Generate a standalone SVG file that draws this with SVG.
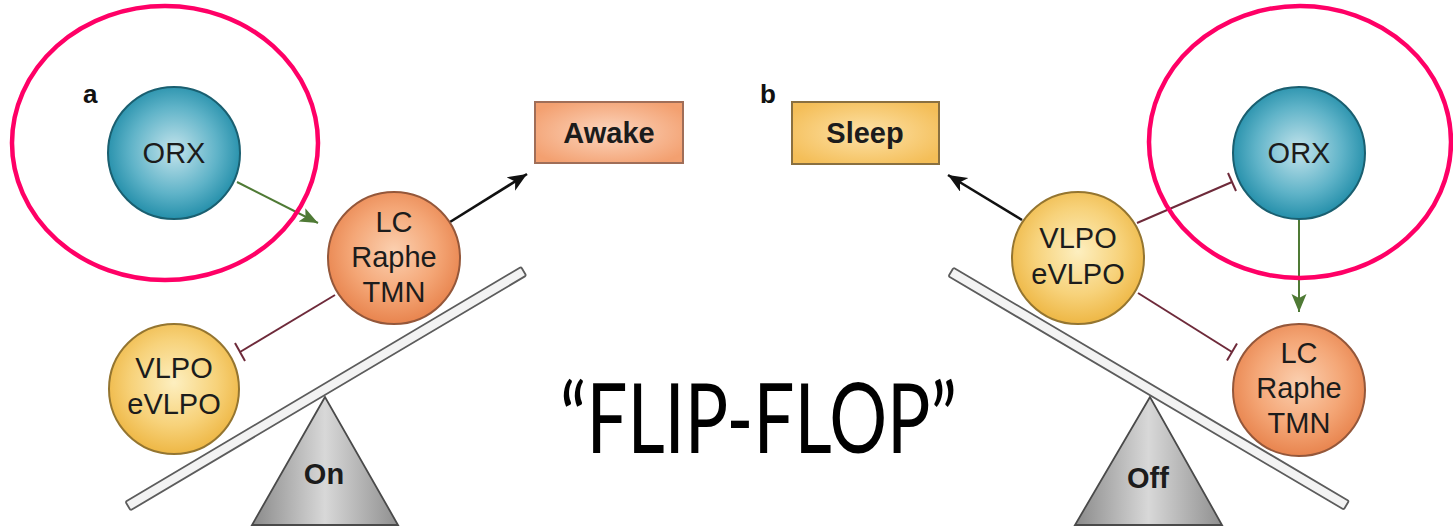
<svg xmlns="http://www.w3.org/2000/svg" width="1453" height="529" viewBox="0 0 1453 529">
  <defs>
    <radialGradient id="gORX" cx="50%" cy="48%" r="55%">
      <stop offset="0" stop-color="#c4e4ec"/>
      <stop offset="0.6" stop-color="#5fb3c8"/>
      <stop offset="1" stop-color="#1c8aa6"/>
    </radialGradient>
    <radialGradient id="gLC" cx="50%" cy="45%" r="55%">
      <stop offset="0" stop-color="#fbd0b0"/>
      <stop offset="0.6" stop-color="#f4a676"/>
      <stop offset="1" stop-color="#e8844e"/>
    </radialGradient>
    <radialGradient id="gVL" cx="50%" cy="45%" r="55%">
      <stop offset="0" stop-color="#fdefc0"/>
      <stop offset="0.6" stop-color="#f7d27a"/>
      <stop offset="1" stop-color="#eeb745"/>
    </radialGradient>
    <radialGradient id="gAwake" cx="50%" cy="50%" r="60%">
      <stop offset="0" stop-color="#fcd6bf"/>
      <stop offset="1" stop-color="#f3a070"/>
    </radialGradient>
    <radialGradient id="gSleep" cx="50%" cy="50%" r="60%">
      <stop offset="0" stop-color="#fde2a8"/>
      <stop offset="1" stop-color="#f4be58"/>
    </radialGradient>
    <linearGradient id="gTri" x1="0" y1="0" x2="1" y2="0">
      <stop offset="0" stop-color="#8a8a8a"/>
      <stop offset="0.5" stop-color="#d8d8d8"/>
      <stop offset="1" stop-color="#8f8f8f"/>
    </linearGradient>
    <marker id="mBlack" markerUnits="userSpaceOnUse" markerWidth="22" markerHeight="18" refX="19" refY="8" orient="auto">
      <path d="M0,0 L19,8 L0,16 L5,8 z" fill="#111"/>
    </marker>
    <marker id="mGreen" markerUnits="userSpaceOnUse" markerWidth="22" markerHeight="18" refX="18" refY="7.5" orient="auto">
      <path d="M0,0 L18,7.5 L0,15 L4,7.5 z" fill="#4f7a35"/>
    </marker>
  </defs>
  <style>
    .node text { font-family: "Liberation Sans", Arial, sans-serif; fill: #1c1c1c; text-anchor: middle; }
    .lbl { font-size: 29px; }
    .bold { font-weight: bold; font-size: 29px; }
    .circ { stroke-width: 2; }
    .orx { fill: url(#gORX); stroke: #1a5f70; }
    .lc { fill: url(#gLC); stroke: #94573a; }
    .vl { fill: url(#gVL); stroke: #947530; }
    .tri { fill: url(#gTri); stroke: #4a4a4a; stroke-width: 1.8; }
    .plank { fill: #f3f3f3; stroke: #5c5c5c; stroke-width: 1.8; }
    .hl { fill: none; stroke: #ff0066; stroke-width: 4.5; }
    .inh { stroke: #6e2a3a; stroke-width: 2; fill: none; }
    .exc { stroke: #4f7a35; stroke-width: 2; fill: none; }
    .act { stroke: #111; stroke-width: 2.6; fill: none; }
    .panel { font-family: "Liberation Sans", Arial, sans-serif; font-weight: bold; font-size: 26px; fill: #111; }
  </style>
  <rect width="1453" height="529" fill="#ffffff"/>

  <text class="panel" x="83" y="103">a</text>
  <text class="panel" x="760" y="103">b</text>

  <!-- Fulcrums -->
  <g id="fulcrum-on" class="node">
    <polygon class="tri" points="325,397 252,525 398,525"/>
    <text class="bold" x="324" y="484">On</text>
  </g>
  <g id="fulcrum-off" class="node">
    <polygon class="tri" points="1150,397 1075,525 1222,525"/>
    <text class="bold" x="1148" y="488">Off</text>
  </g>

  <!-- Connectors -->
  <g id="connectors">
    <line class="exc" x1="237" y1="182" x2="318" y2="223" marker-end="url(#mGreen)"/>
    <line class="act" x1="450" y1="222" x2="527" y2="174" marker-end="url(#mBlack)"/>
    <line class="inh" x1="335" y1="295" x2="240" y2="352"/>
    <line class="inh" x1="235" y1="343" x2="245" y2="361"/>
    <line class="act" x1="1022" y1="220" x2="948" y2="175" marker-end="url(#mBlack)"/>
    <line class="inh" x1="1137" y1="223" x2="1232" y2="182"/>
    <line class="inh" x1="1228" y1="173" x2="1236" y2="191"/>
    <line class="exc" x1="1299" y1="219" x2="1299" y2="312" marker-end="url(#mGreen)"/>
    <line class="inh" x1="1138" y1="293" x2="1232" y2="352"/>
    <line class="inh" x1="1237" y1="343.5" x2="1227" y2="360.5"/>
  </g>

  <!-- Panel a nodes -->
  <g id="orx-a" class="node">
    <circle class="circ orx" cx="174" cy="153" r="66"/>
    <text class="lbl" x="174" y="163">ORX</text>
  </g>
  <g id="lc-a" class="node">
    <circle class="circ lc" cx="394" cy="258" r="66"/>
    <text class="lbl" x="394" y="232">LC</text>
    <text class="lbl" x="394" y="267">Raphe</text>
    <text class="lbl" x="394" y="302">TMN</text>
  </g>
  <g id="vlpo-a" class="node">
    <circle class="circ vl" cx="174" cy="389" r="65"/>
    <text class="lbl" x="174" y="378">VLPO</text>
    <text class="lbl" x="174" y="414">eVLPO</text>
  </g>
  <g id="awake" class="node">
    <rect x="535" y="102" width="148" height="61" fill="url(#gAwake)" stroke="#a06e58" stroke-width="2"/>
    <text class="bold" x="609" y="143">Awake</text>
  </g>

  <!-- Panel b nodes -->
  <g id="sleep" class="node">
    <rect x="792" y="102" width="147" height="62" fill="url(#gSleep)" stroke="#8a7040" stroke-width="2"/>
    <text class="bold" x="865" y="143">Sleep</text>
  </g>
  <g id="vlpo-b" class="node">
    <circle class="circ vl" cx="1078" cy="258" r="66"/>
    <text class="lbl" x="1078" y="248">VLPO</text>
    <text class="lbl" x="1078" y="284">eVLPO</text>
  </g>
  <g id="orx-b" class="node">
    <circle class="circ orx" cx="1299" cy="153" r="66"/>
    <text class="lbl" x="1299" y="163">ORX</text>
  </g>
  <g id="lc-b" class="node">
    <circle class="circ lc" cx="1299" cy="390" r="66"/>
    <text class="lbl" x="1299" y="363">LC</text>
    <text class="lbl" x="1299" y="398">Raphe</text>
    <text class="lbl" x="1299" y="433">TMN</text>
  </g>

  <!-- Seesaw planks -->
  <g id="plank-a">
    <rect class="plank" x="0" y="-5" width="460" height="10" rx="1.5" transform="translate(128,506) rotate(-30.68)"/>
  </g>
  <g id="plank-b">
    <rect class="plank" x="0" y="-5" width="459" height="10" rx="1.5" transform="translate(951,272) rotate(30.54)"/>
  </g>

  <!-- Highlight ellipses -->
  <g id="highlight-a"><ellipse class="hl" cx="165" cy="143" rx="153" ry="137"/></g>
  <g id="highlight-b"><ellipse class="hl" cx="1300" cy="142" rx="151" ry="136"/></g>

  <g id="title">
    <text x="560" y="453" font-family="Lato, 'Open Sans', 'Liberation Sans', sans-serif" font-size="96" fill="#000" textLength="397" lengthAdjust="spacingAndGlyphs">“FLIP-FLOP”</text>
  </g>
</svg>
